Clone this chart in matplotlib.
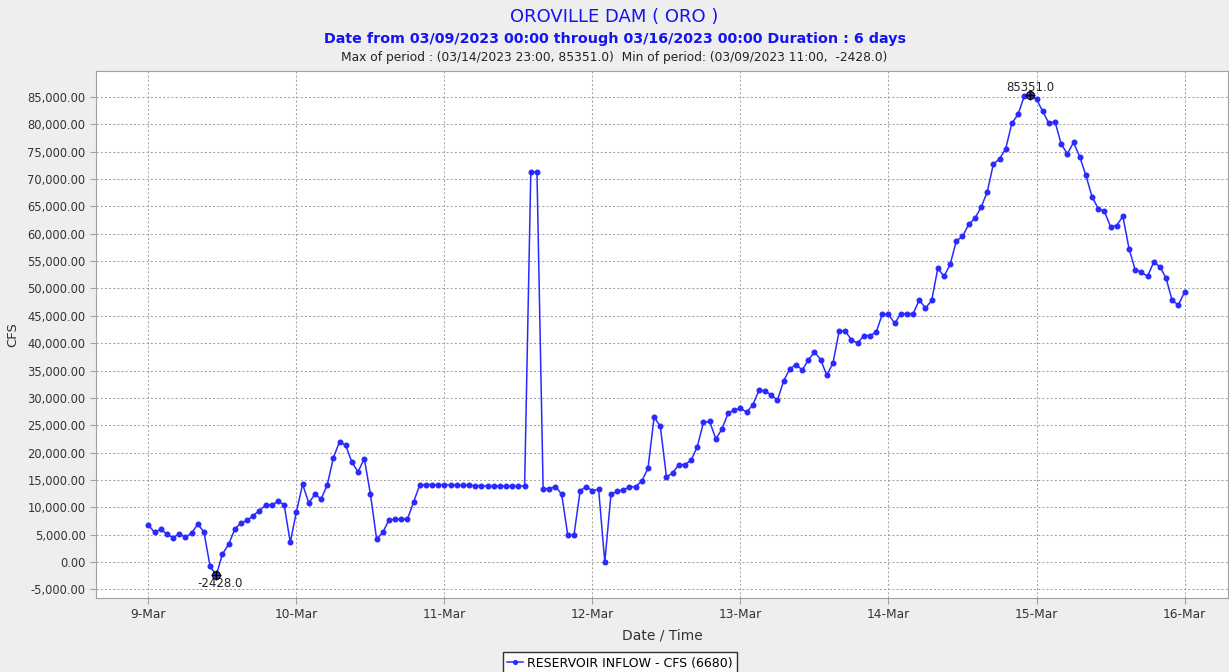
import pandas as pd
import numpy as np
import matplotlib
matplotlib.use('Agg')
import matplotlib.pyplot as plt
import matplotlib.dates as mdates
from matplotlib.ticker import FuncFormatter, MultipleLocator

# hourly reservoir inflow (thousand CFS), 03/09 00:00 through 03/16 00:00
day_09 = [6.76, 5.4, 6.0, 5.1, 4.45, 5.2, 4.5, 5.3, 6.9, 5.5, -0.8, -2.428,
          1.46, 3.2, 6.0, 7.1, 7.6, 8.5, 9.4, 10.4, 10.4, 11.1, 10.5, 3.6]
day_10 = [9.2, 14.2, 10.8, 12.4, 11.5, 14.1, 19.1, 22.0, 21.3, 18.2, 16.5, 18.9,
          12.4, 4.2, 5.4, 7.7, 7.8, 7.8, 7.85, 11.0, 14.1, 14.15, 14.15, 14.1]
day_11 = [14.1, 14.1, 14.05, 14.0, 14.0, 13.95, 13.95, 13.9, 13.9, 13.9, 13.9, 13.9,
          13.9, 13.9, 71.2, 71.35, 13.4, 13.4, 13.8, 12.4, 4.9, 4.9, 13.0, 13.8]
day_12 = [13.0, 13.3, -0.05, 12.4, 12.9, 13.2, 13.7, 13.8, 14.8, 17.1, 26.5, 24.8,
          15.5, 16.3, 17.8, 17.8, 18.6, 21.1, 25.5, 25.7, 22.5, 24.3, 27.2, 27.8]
day_13 = [28.1, 27.4, 28.7, 31.4, 31.3, 30.5, 29.6, 33.1, 35.3, 36.1, 35.1, 36.9,
          38.4, 37.0, 34.1, 36.4, 42.2, 42.2, 40.6, 40.0, 41.4, 41.4, 42.0, 45.3]
day_14 = [45.3, 43.6, 45.4, 45.4, 45.4, 47.9, 46.4, 47.8, 53.7, 52.2, 54.4, 58.7,
          59.5, 61.7, 62.8, 64.8, 67.6, 72.7, 73.7, 75.5, 80.2, 81.8, 85.1, 85.351]
day_15 = [84.6, 82.4, 80.2, 80.5, 76.4, 74.6, 76.7, 74.1, 70.7, 66.8, 64.6, 64.1,
          61.3, 61.5, 63.2, 57.3, 53.4, 53.0, 52.2, 54.8, 54.0, 51.9, 47.8, 47.0,
          49.3]

inflow = np.array(day_09 + day_10 + day_11 + day_12 + day_13 + day_14 + day_15) * 1000
times = pd.date_range('2023-03-09 00:00', periods=len(inflow), freq='h')
df = pd.DataFrame({'inflow': inflow}, index=times)

blue = '#2a2aff'
bg = '#eeeeee'

fig = plt.figure(figsize=(12.29, 6.72), dpi=100, facecolor=bg)
ax = fig.add_axes([96/1229, 74/672, 1132/1229, 527/672])
ax.set_facecolor('white')

ax.plot(df.index, df['inflow'], color=blue, lw=1.1, marker='o', ms=3.3,
        mec=blue, mfc=blue, label='RESERVOIR INFLOW - CFS (6680)')

# mark max / min of the period
imax = df['inflow'].idxmax()
imin = df['inflow'].idxmin()
for t in (imax, imin):
    v = df.loc[t, 'inflow']
    ax.plot([t], [v], marker='o', ms=5.5, mfc='none', mec='black', mew=1.0, zorder=5)
    ax.plot([t], [v], marker='+', ms=6.5, color='black', mew=1.0, zorder=5)
ax.annotate(f"{df.loc[imax, 'inflow']:.1f}", (imax, df.loc[imax, 'inflow']),
            xytext=(0, 1), textcoords='offset points', ha='center', va='bottom',
            fontsize=8.5, color='#222222')
ax.annotate(f"{df.loc[imin, 'inflow']:.1f}", (imin, df.loc[imin, 'inflow']),
            xytext=(3, -1), textcoords='offset points', ha='center', va='top',
            fontsize=8.5, color='#222222')

ax.set_xlim(pd.Timestamp('2023-03-09') - pd.Timedelta(hours=8.5),
            pd.Timestamp('2023-03-16') + pd.Timedelta(hours=7.05))
ax.set_ylim(-6580, 89750)

ax.xaxis.set_major_locator(mdates.DayLocator())
ax.xaxis.set_major_formatter(mdates.DateFormatter('%-d-%b'))
ax.yaxis.set_major_locator(MultipleLocator(5000))
ax.yaxis.set_major_formatter(FuncFormatter(lambda v, p: f'{v:,.2f}'))

ax.grid(True, color='#a4a4a4', linestyle=(0, (2, 2)), linewidth=0.75)
ax.set_axisbelow(True)
for s in ax.spines.values():
    s.set_color('#a0a0a0')
ax.tick_params(axis='both', colors='#a0a0a0', labelcolor='#333333', labelsize=8.3,
               length=4, width=0.8)
ax.tick_params(axis='x', labelsize=8.8)

ax.set_xlabel('Date / Time', fontsize=10, color='#333333', labelpad=5)
ax.set_ylabel('CFS', fontsize=9.5, color='#333333', labelpad=6)

fig.text(0.5, 1 - 17/672, 'OROVILLE DAM ( ORO )', ha='center', va='center',
         fontsize=13, color='#1414f0')
fig.text(0.5, 1 - 39/672, 'Date from 03/09/2023 00:00 through 03/16/2023 00:00 Duration : 6 days',
         ha='center', va='center', fontsize=10.3, fontweight='bold', color='#1414f0')
fig.text(0.5, 1 - 58/672,
         'Max of period : (03/14/2023 23:00, 85351.0)  Min of period: (03/09/2023 11:00,  -2428.0)',
         ha='center', va='center', fontsize=8.8, color='#222222')

leg = fig.legend(loc='center', bbox_to_anchor=(620/1229, 1 - 663/672), fontsize=9,
                 frameon=True, fancybox=False, edgecolor='black', borderpad=0.35,
                 handlelength=1.3, handletextpad=0.3, markerscale=0.8)
leg.get_frame().set_linewidth(1.0)
leg.get_frame().set_facecolor('white')

plt.savefig('out.png', dpi=100, facecolor=bg)
